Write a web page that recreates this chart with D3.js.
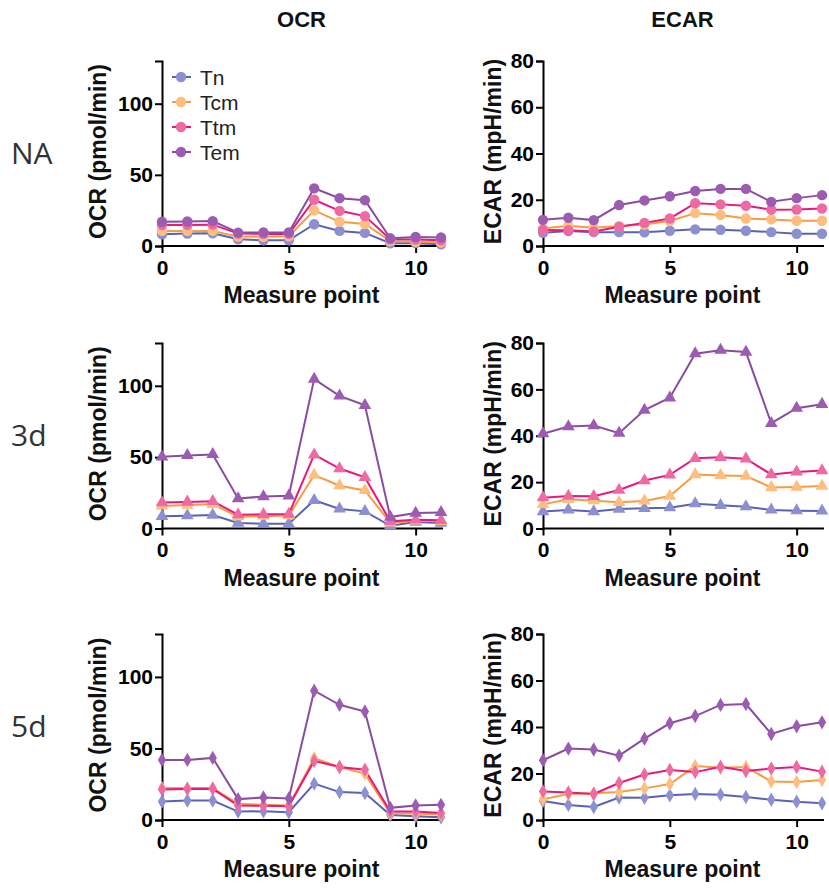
<!DOCTYPE html>
<html>
<head>
<meta charset="utf-8">
<script src="https://cdn.jsdelivr.net/npm/d3@7"></script>
<style>
  body { margin: 0; background: #fff; }
  svg text { font-family: "Liberation Sans", Arial, sans-serif; }
</style>
</head>
<body>
<div id="chart"></div>
<script>
// categories
const measurePoints = [0, 1, 2, 3, 4, 5, 6, 7, 8, 9, 10, 11];
const seriesNames = ['Tn', 'Tcm', 'Ttm', 'Tem'];
const rowNames = ['NA', '3d', '5d'];
const colNames = ['OCR', 'ECAR'];

// OCR (pmol/min), one array per series: Tn, Tcm, Ttm, Tem
const ocrNA = [
    [8.2, 8.7, 8.9, 4.7, 4.0, 4.0, 15.3, 10.6, 9.2, 1.9, 2.0, 1.2],
    [10.6, 10.6, 10.6, 6.6, 6.5, 6.8, 25.0, 17.0, 15.5, 3.5, 3.0, 2.5],
    [14.8, 14.8, 15.0, 8.7, 8.5, 8.5, 32.5, 24.7, 21.0, 4.7, 4.5, 4.0],
    [17.0, 17.2, 17.5, 9.4, 9.5, 9.6, 40.5, 33.6, 32.2, 5.4, 6.3, 6.0]
];
const ocr3d = [
    [8.5, 9.0, 9.4, 3.8, 3.3, 3.3, 19.8, 13.7, 12.0, 1.9, 4.5, 3.8],
    [15.8, 16.5, 17.0, 8.3, 8.7, 9.0, 37.5, 30.0, 26.7, 4.0, 5.4, 5.0],
    [18.2, 18.6, 19.1, 9.7, 9.9, 10.1, 51.7, 42.0, 35.8, 5.0, 6.1, 5.7],
    [50.2, 51.2, 51.9, 21.0, 22.4, 22.9, 104.7, 92.9, 86.3, 8.0, 10.8, 11.3]
];
const ocr5d = [
    [12.9, 13.6, 13.6, 5.9, 6.1, 5.4, 25.4, 19.5, 18.8, 3.5, 2.6, 1.9],
    [22.3, 22.3, 22.3, 11.3, 10.6, 10.1, 43.2, 37.1, 32.4, 4.7, 4.5, 3.8],
    [21.4, 21.6, 21.8, 10.1, 9.9, 9.6, 41.3, 37.1, 35.2, 5.9, 5.9, 4.9],
    [42.0, 42.0, 43.4, 14.6, 15.7, 15.0, 90.4, 80.5, 75.8, 8.5, 10.1, 10.6]
];

// ECAR (mpH/min), one array per series: Tn, Tcm, Ttm, Tem
const ecarNA = [
    [5.7, 6.5, 6.0, 6.0, 5.9, 6.6, 7.2, 7.0, 6.6, 6.0, 5.3, 5.3],
    [7.6, 8.8, 7.9, 8.6, 9.3, 10.8, 14.2, 13.4, 11.9, 11.5, 10.9, 10.9],
    [6.9, 6.8, 6.3, 8.3, 10.0, 11.9, 18.5, 18.0, 17.4, 15.7, 15.8, 16.2],
    [11.3, 12.2, 11.2, 17.7, 19.7, 21.5, 23.8, 24.7, 24.7, 19.1, 20.7, 22.0]
];
const ecar3d = [
    [7.3, 8.0, 7.3, 8.4, 8.7, 9.0, 10.7, 10.0, 9.4, 8.0, 7.7, 7.6],
    [10.4, 12.6, 12.0, 11.3, 11.9, 14.0, 23.3, 22.9, 22.6, 17.7, 17.9, 18.3],
    [13.3, 14.0, 13.9, 16.6, 20.7, 23.1, 30.3, 30.7, 30.1, 23.3, 24.4, 25.0],
    [40.9, 44.0, 44.4, 41.1, 51.1, 56.4, 75.4, 76.9, 76.1, 45.4, 51.9, 53.6]
];
const ecar5d = [
    [8.2, 6.5, 5.6, 9.7, 9.6, 10.6, 11.2, 10.9, 9.9, 8.7, 7.9, 7.2],
    [8.9, 11.2, 11.5, 12.0, 13.6, 15.5, 23.2, 22.5, 22.8, 16.6, 16.3, 17.2],
    [12.3, 11.8, 11.2, 15.9, 19.6, 21.5, 20.6, 22.9, 21.1, 22.1, 22.8, 20.8],
    [25.7, 30.7, 30.3, 27.7, 35.0, 41.6, 44.7, 49.5, 49.9, 37.0, 40.3, 42.0]
];

// tick values
const xTicks = [0, 5, 10];
const ocrTicks = [0, 50, 100];
const ecarTicks = [0, 20, 40, 60, 80];

const panelData = [
    [ocrNA, ecarNA],
    [ocr3d, ecar3d],
    [ocr5d, ecar5d]
];

// styles
const lineColors = ['#5a63b3', '#f59c45', '#e8187c', '#8a4c9f'];
const markColors = ['#8c90d0', '#fdbe7e', '#ee6aa2', '#9b5cb1'];
const rowSymbols = [d3.symbolCircle, d3.symbolTriangle, d3.symbolDiamond];
const rowSymbolSize = [85, 70, 60];

const width = 829, height = 888;
const rowTop = [61, 343, 634];
const rowBottom = [246, 528.5, 820];
const colLeft = [162, 543];
const colRight = [441, 822];
const yDomain = [[0, 130], [0, 80]];
const yLabels = ['OCR (pmol/min)', 'ECAR (mpH/min)'];
const yLabelX = [98, 493];

const svg = d3.select('#chart').append('svg')
    .attr('width', width)
    .attr('height', height);

// column titles
svg.selectAll('.col-title')
    .data(colNames)
    .enter().append('text')
    .attr('class', 'col-title')
    .attr('x', (d, i) => (colLeft[i] + colRight[i]) / 2)
    .attr('y', 27)
    .attr('text-anchor', 'middle')
    .attr('font-size', '22px')
    .attr('font-weight', 'bold')
    .attr('fill', '#111')
    .text(d => d);

// row labels
svg.selectAll('.row-title')
    .data(rowNames)
    .enter().append('text')
    .attr('class', 'row-title')
    .attr('x', 11)
    .attr('y', (d, i) => rowTop[i] + 103)
    .attr('font-size', '30px')
    .attr('fill', '#333')
    .style('font-family', '"Open Sans", "Noto Sans", sans-serif')
    .text(d => d);

rowNames.forEach((rowName, r) => {
    colNames.forEach((colName, c) => {
        const x = d3.scaleLinear().domain([0, 11]).range([colLeft[c], colRight[c]]);
        const y = d3.scaleLinear().domain(yDomain[c]).range([rowBottom[r], rowTop[r]]);
        const g = svg.append('g').attr('class', `panel-${r}-${c}`);

        // x axis
        const xAxis = g.append('g')
            .attr('transform', `translate(0,${rowBottom[r]})`)
            .call(d3.axisBottom(x).tickValues(xTicks).tickSizeOuter(0).tickSize(7).tickPadding(7));
        // y axis
        const yAxis = g.append('g')
            .attr('transform', `translate(${colLeft[c]},0)`)
            .call(d3.axisLeft(y).tickValues(c === 0 ? ocrTicks : ecarTicks).tickSizeOuter(0).tickSize(7).tickPadding(2));

        [xAxis, yAxis].forEach(ax => {
            ax.select('.domain').attr('stroke', '#000').attr('stroke-width', 2);
            ax.selectAll('.tick line').attr('stroke', '#000').attr('stroke-width', 2);
            ax.selectAll('.tick text')
                .attr('fill', '#000')
                .attr('font-size', '21px')
                .attr('font-weight', 'bold')
                .style('font-family', '"Liberation Sans", Arial, sans-serif');
        });
        // extend x axis line slightly past the last point
        xAxis.select('.domain').attr('d', `M${colLeft[c] - 1},0H${colRight[c] + 2}`);

        // axis titles
        g.append('text')
            .attr('x', (colLeft[c] + colRight[c]) / 2)
            .attr('y', rowBottom[r] + 57)
            .attr('text-anchor', 'middle')
            .attr('font-size', '23px')
            .attr('font-weight', 'bold')
            .attr('fill', '#111')
            .text('Measure point');

        g.append('text')
            .attr('transform', `translate(${yLabelX[c]},${(rowTop[r] + rowBottom[r]) / 2 - 2}) rotate(-90)`)
            .attr('text-anchor', 'middle')
            .attr('dominant-baseline', 'central')
            .attr('font-size', '23px')
            .attr('font-weight', 'bold')
            .attr('fill', '#111')
            .text(yLabels[c]);

        // lines
        const line = d3.line()
            .x((d, i) => x(measurePoints[i]))
            .y(d => y(d));

        const series = panelData[r][c];
        g.selectAll('.series-line')
            .data(series)
            .enter().append('path')
            .attr('class', 'series-line')
            .attr('d', line)
            .attr('fill', 'none')
            .attr('stroke', (d, i) => lineColors[i])
            .attr('stroke-width', 2);

        // markers
        const symbol = d3.symbol().type(rowSymbols[r]).size(rowSymbolSize[r]);
        series.forEach((vals, s) => {
            g.selectAll(`.mark-${s}`)
                .data(vals)
                .enter().append('path')
                .attr('class', `mark-${s}`)
                .attr('d', symbol)
                .attr('transform', (d, i) => `translate(${x(measurePoints[i])},${y(d)})`)
                .attr('fill', markColors[s]);
        });
    });
});

// legend (first OCR panel only)
const legend = svg.append('g').attr('class', 'legend');
const legendSymbol = d3.symbol().type(d3.symbolCircle).size(85);
seriesNames.forEach((name, i) => {
    const ly = 77 + i * 25;
    legend.append('line')
        .attr('x1', 172).attr('x2', 191)
        .attr('y1', ly).attr('y2', ly)
        .attr('stroke', lineColors[i])
        .attr('stroke-width', 2);
    legend.append('path')
        .attr('d', legendSymbol)
        .attr('transform', `translate(181,${ly})`)
        .attr('fill', markColors[i]);
    legend.append('text')
        .attr('x', 200)
        .attr('y', ly)
        .attr('dominant-baseline', 'central')
        .attr('font-size', '21px')
        .attr('fill', '#222')
        .text(name);
});
</script>
</body>
</html>
